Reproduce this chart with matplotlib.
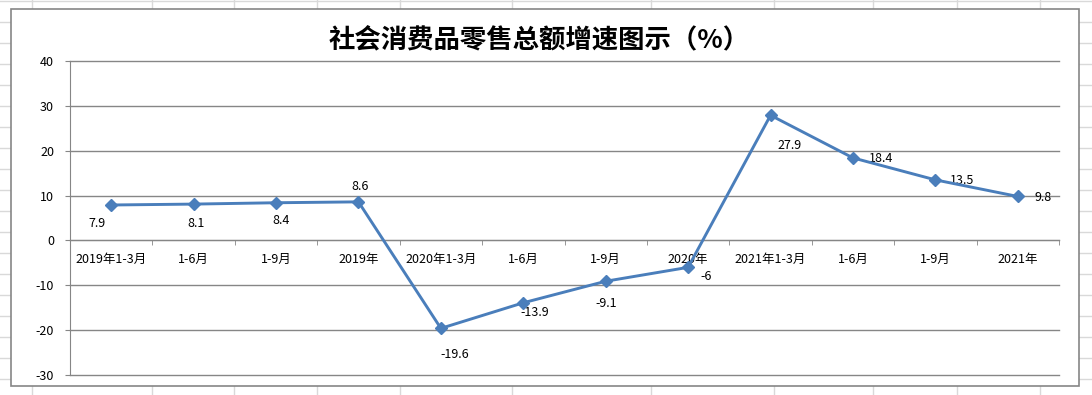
import matplotlib
matplotlib.use("Agg")
import matplotlib.pyplot as plt
from matplotlib.lines import Line2D
from matplotlib.patches import Rectangle
import numpy as np

plt.rcParams['font.family'] = ['Noto Sans CJK SC', 'DejaVu Sans']
plt.rcParams['axes.unicode_minus'] = False

# data
categories = ['2019年1-3月', '1-6月', '1-9月', '2019年',
              '2020年1-3月', '1-6月', '1-9月', '2020年',
              '2021年1-3月', '1-6月', '1-9月', '2021年']
growth = [7.9, 8.1, 8.4, 8.6, -19.6, -13.9, -9.1, -6, 27.9, 18.4, 13.5, 9.8]
value_labels = ['7.9', '8.1', '8.4', '8.6', '-19.6', '-13.9', '-9.1', '-6',
                '27.9', '18.4', '13.5', '9.8']
y_ticks = [-30, -20, -10, 0, 10, 20, 30, 40]
title = '社会消费品零售总额增速图示（%）'

# label offsets in pixels (dx, dy) relative to the point
label_offsets = [(-14, -19), (2, -19), (5, -18), (2, 15),
                 (14, -26), (11, -10), (1, -22), (18, -9),
                 (19, -30), (28, -1), (27, -1), (25, -1)]

W, H = 1092, 395
fig = plt.figure(figsize=(W / 100, H / 100), dpi=100)

# spreadsheet cell lines behind the chart
cell_color = '#d9d9d9'
col_x = [32, 152, 234, 317, 400, 512, 651, 774, 873, 957, 1040]
for x in col_x:
    fig.add_artist(Line2D([x / W, x / W], [0, 1], color=cell_color, lw=1,
                          transform=fig.transFigure, zorder=0))
for y in range(1, H, 21):
    fig.add_artist(Line2D([0, 1], [1 - y / H, 1 - y / H], color=cell_color,
                          lw=1, transform=fig.transFigure, zorder=0))

# chart frame
fig.add_artist(Rectangle((11 / W, 1 - 386 / H), 1068 / W, 377 / H,
                         facecolor='white', edgecolor='#868686', lw=1.2,
                         transform=fig.transFigure, zorder=1))

ax = fig.add_axes([70 / W, 1 - 375 / H, 989 / W, 314 / H], zorder=2)
ax.patch.set_alpha(0)

x = np.arange(len(categories))
ax.plot(x, growth, color='#4A7EBB', lw=2.1, marker='D', ms=6.5,
        markeredgecolor='#4A7EBB', markerfacecolor='#4A7EBB', zorder=5,
        clip_on=False)

for xi, yi, lab, (dx, dy) in zip(x, growth, value_labels, label_offsets):
    ax.annotate(lab, (xi, yi), xytext=(dx, dy), textcoords='offset pixels',
                ha='center', va='center', fontsize=9, color='black')

ax.set_xlim(-0.5, len(categories) - 0.5)
ax.set_ylim(-30, 40)
ax.set_yticks(y_ticks)
ax.yaxis.grid(True, color='#868686', lw=1.0)
for gl in ax.get_ygridlines():
    gl.set_clip_on(False)
ax.set_axisbelow(True)

ax.spines['top'].set_visible(False)
ax.spines['right'].set_visible(False)
ax.spines['left'].set_color('#868686')
ax.spines['bottom'].set_color('#868686')
ax.spines['bottom'].set_position(('data', 0))

ax.set_xticks(x)
ax.set_xticklabels(categories)
ax.set_xticks(np.arange(-0.5, len(categories)), minor=True)
ax.tick_params(axis='x', which='major', length=0, pad=9, labelsize=9)
ax.tick_params(axis='x', which='minor', length=3.5, color='#868686',
               direction='out')
ax.tick_params(axis='y', length=3.5, color='#868686', labelsize=9, pad=8)

fig.text(539 / W, 1 - 40 / H, title, ha='center', va='center',
         fontsize=19, fontweight='bold', color='black')

fig.savefig('out.png', dpi=100)
